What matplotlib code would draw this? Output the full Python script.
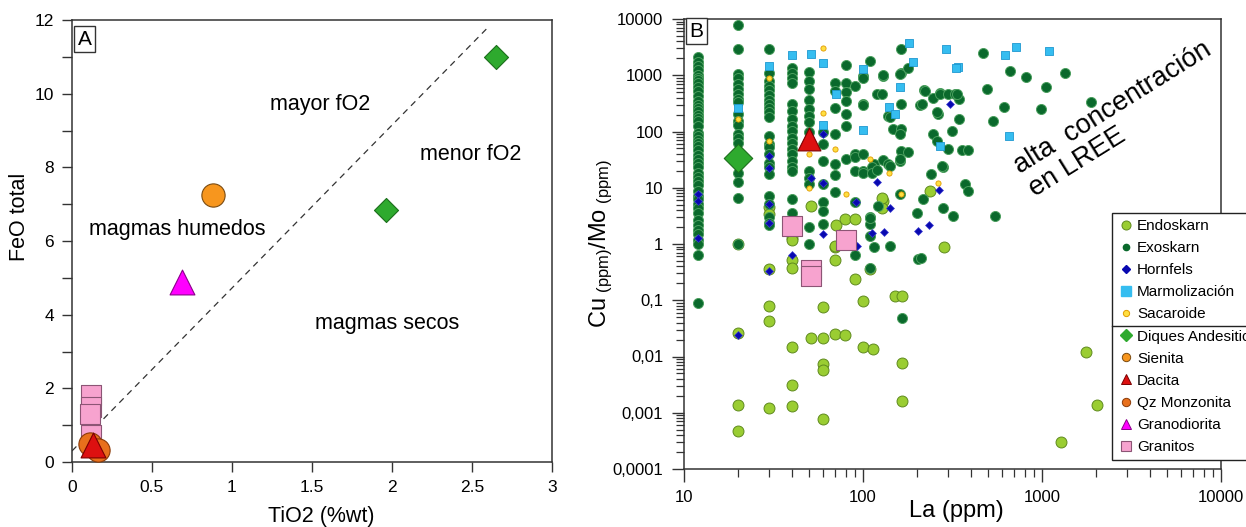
import numpy as np
import matplotlib.pyplot as plt
from matplotlib.lines import Line2D
from matplotlib.ticker import FixedLocator, LogLocator, FuncFormatter, NullFormatter

plt.rcParams['font.family'] = ['Liberation Sans', 'DejaVu Sans']
plt.rcParams['mathtext.fontset'] = 'custom'
plt.rcParams['mathtext.rm'] = 'Liberation Sans'
plt.rcParams['mathtext.default'] = 'regular'

# ---------------- panel A : TiO2 (%wt) vs FeO total ----------------
diq_tio2 = [2.65, 1.96]
diq_feo = [11.0, 6.85]
sien_tio2 = [0.88]
sien_feo = [7.26]
qzm_tio2 = [0.11, 0.16]
qzm_feo = [0.48, 0.33]
gdio_tio2 = [0.69]
gdio_feo = [4.9]
dac_tio2 = [0.13]
dac_feo = [0.45]
gran_tio2 = [0.12, 0.12, 0.11, 0.12]
gran_feo = [1.82, 1.5, 1.3, 0.72]
limit_tio2 = [0.0, 2.6]
limit_feo = [0.3, 11.8]

# ---------------- panel B : La (ppm) vs Cu/Mo ----------------
# exoskarn, vertical columns at fixed La
exo_c12 = [2100, 1750, 1450, 1250, 1030, 900, 830, 720, 630, 530, 423, 350, 300, 264,
           230, 200, 175, 152, 125, 95, 82, 72, 63, 55, 47, 39, 33, 28, 23, 18.5, 15.5,
           13.3, 11, 8.8, 7.2, 6.2, 5.2, 4.4, 3.5, 2.7, 2.2, 1.8, 1.5, 1.2, 1.0, 0.63, 0.088]
exo_c20 = [7800, 2950, 1070, 890, 710, 560, 465, 385, 330, 205, 154, 132, 92, 78, 63,
           18.6, 12.6, 6.6, 1.0]
exo_c30 = [2950, 1100, 790, 650, 540, 450, 370, 310, 265, 218, 178, 83, 60, 52, 40, 28,
           23, 17.6, 7.2, 5.2, 3.0, 2.4, 2.2]
exo_c40 = [1350, 1100, 910, 740, 310, 235, 167, 126, 102, 78, 62, 49, 40, 30, 23, 20,
           6.2, 3.6]
exo_c50 = [1150, 790, 560, 360, 250, 190, 145, 100, 20, 15, 11.7, 2.0, 1.0]
exo_c60 = [100, 60, 30, 11.8, 5.5, 3.9, 2.3]
# exoskarn, scattered
exo_la = [70, 70, 70, 70, 70, 70, 70,
          80, 80, 80, 80, 80, 80, 80,
          90, 90, 90, 90, 90, 90,
          100, 100, 100, 100, 100, 100, 100,
          110, 115, 112, 112, 110, 110, 110, 109, 109, 115,
          120, 128, 120, 130, 130, 130, 122,
          138, 141, 147, 138, 141, 141,
          162, 162, 178, 162, 162, 160, 162, 178, 160, 160, 160, 160,
          208, 219, 216, 200, 203, 213, 222, 210,
          247, 269, 262, 247, 258, 240, 280, 280, 269, 258, 276,
          298, 343, 343, 314, 298, 358, 385, 370, 385, 318, 325, 335,
          470, 660, 815, 1050, 1340, 490, 610, 990, 530, 1890, 545, 166]
exo_ratio = [740, 525, 265, 89, 26, 17, 8.3,
             1550, 740, 500, 350, 205, 126, 32,
             650, 40, 35, 20, 5.5, 0.64,
             980, 910, 310, 295, 40, 20, 18.6,
             1780, 26, 23, 18.6, 3.0, 2.3, 0.38, 2.9, 1.4, 0.87,
             465, 465, 21, 980, 1000, 31, 4.8,
             190, 178, 112, 26, 24.5, 0.93,
             2900, 1100, 1350, 310, 112, 92, 45, 44, 30, 32, 7.7, 1050,
             295, 550, 6.3, 3.6, 0.55, 310, 525, 0.56,
             400, 480, 205, 92, 68, 17.8, 23, 4.3, 465, 218, 24.5,
             465, 380, 167, 102, 49, 47, 47, 11.8, 8.9, 3.1, 460, 465,
             2450, 1180, 930, 620, 1100, 575, 275, 250, 155, 330, 3.1, 0.049]

endo_la = [30, 30, 40, 51, 71, 79, 90, 70, 130, 128, 128, 237, 285,
           20, 40, 40, 40, 30, 70, 70, 90, 110,
           30, 30, 60, 100, 150, 166, 20, 51, 60, 70, 79, 40, 100, 113,
           60, 60, 166, 1770, 40, 20, 30, 40, 166, 60, 20, 1280, 2020]
endo_ratio = [4.5, 3.4, 1.3, 4.8, 2.2, 2.8, 2.8, 0.87, 5.9, 4.3, 6.7, 8.9, 0.9,
              1.0, 1.2, 0.53, 0.37, 0.36, 0.93, 0.53, 0.24, 0.36,
              0.08, 0.043, 0.075, 0.096, 0.12, 0.117, 0.026, 0.021, 0.021, 0.025, 0.024,
              0.0145, 0.0145, 0.0135,
              0.0074, 0.0058, 0.0077, 0.012, 0.0031, 0.0014, 0.0012, 0.0013, 0.0016,
              0.00079, 0.00047, 0.0003, 0.0014]

horn_la = [12, 12, 12, 20, 30, 30, 30, 30, 30, 40, 51, 60, 60, 60, 91, 120, 141, 112,
           131, 92, 203, 233, 266, 306]
horn_ratio = [7.8, 5.9, 1.26, 0.024, 37, 22, 5.2, 2.4, 0.33, 0.64, 15, 89, 12.3, 1.5, 5.5,
              12.9, 4.3, 1.6, 1.66, 0.93, 1.7, 2.2, 9.2, 310]

marm_la = [30, 40, 51, 60, 71, 60, 20, 100, 100, 140, 150, 160, 180, 190, 269, 290, 340,
           330, 620, 720, 1090, 650]
marm_ratio = [1450, 2300, 2400, 1650, 460, 132, 265, 1290, 107, 275, 205, 620, 3700, 1700,
              55, 2900, 1400, 1350, 2300, 3160, 2690, 83]

sac_la = [60, 30, 20, 60, 30, 50, 70, 50, 80, 110, 140, 162, 262]
sac_ratio = [3100, 910, 166, 210, 69, 40, 49, 10, 7.8, 32, 18.6, 7.8, 12]

diq_la = [20]
diq_ratio = [34]
dac_la = [50]
dac_ratio = [75]
gran_la = [40, 80, 51, 51]
gran_ratio = [2.1, 1.2, 0.35, 0.27]

legend_labels = ['Endoskarn', 'Exoskarn', 'Hornfels', 'Marmolización', 'Sacaroide',
                 'Diques Andesitico', 'Sienita', 'Dacita', 'Qz Monzonita',
                 'Granodiorita', 'Granitos']

# styles
C_DIQ, E_DIQ = '#2eaa2e', '#1b6e1b'
C_SIEN, E_SIEN = '#f7961e', '#7a4a10'
C_QZM, E_QZM = '#e8701c', '#8a3a08'
C_DAC, E_DAC = '#dd1010', '#7a0000'
C_GDIO, E_GDIO = '#ff00ff', '#8a008a'
C_GRAN, E_GRAN = '#f7a3cf', '#8c5575'
C_ENDO, E_ENDO = '#9acd32', '#5f8a1e'
C_EXO, E_EXO = '#0a692c', '#4b9f5e'
C_HORN, E_HORN = '#0808b0', '#3a3ad0'
C_MARM, E_MARM = '#35bdf0', '#1e98d0'
C_SAC, E_SAC = '#ffdf40', '#e09a00'
SPINE = '#333333'

W, H = 1246, 527
fig = plt.figure(figsize=(W / 100, H / 100), dpi=100)

# ======== panel A ========
axA = fig.add_axes([72 / W, 65 / H, 480 / W, 442 / H])
axA.plot(limit_tio2, limit_feo, ls=(0, (5, 4)), color='#333333', lw=0.9, zorder=1)
axA.scatter(gran_tio2, gran_feo, s=200, marker='s', c=C_GRAN, edgecolors=E_GRAN, linewidths=0.8, zorder=3)
axA.scatter(qzm_tio2, qzm_feo, s=280, marker='o', c=C_QZM, edgecolors=E_QZM, linewidths=0.8, zorder=4)
axA.scatter(dac_tio2, dac_feo, s=320, marker='^', c=C_DAC, edgecolors=E_DAC, linewidths=0.8, zorder=5)
axA.scatter(sien_tio2, sien_feo, s=280, marker='o', c=C_SIEN, edgecolors=E_SIEN, linewidths=0.8, zorder=4)
axA.scatter(gdio_tio2, gdio_feo, s=320, marker='^', c=C_GDIO, edgecolors=E_GDIO, linewidths=0.8, zorder=4)
axA.scatter(diq_tio2, diq_feo, s=150, marker='D', c=C_DIQ, edgecolors=E_DIQ, linewidths=0.8, zorder=4)

axA.set_xlim(0, 3)
axA.set_ylim(0, 12)
axA.xaxis.set_major_locator(FixedLocator([0, 0.5, 1, 1.5, 2, 2.5, 3]))
axA.yaxis.set_major_locator(FixedLocator([0, 2, 4, 6, 8, 10, 12]))
axA.yaxis.set_minor_locator(FixedLocator([1, 3, 5, 7, 9, 11]))
axA.xaxis.set_major_formatter(FuncFormatter(lambda v, p: '%g' % v))
axA.tick_params(which='both', direction='out', length=7, width=1.0, color=SPINE,
                labelsize=12.5, pad=6)
for sp in axA.spines.values():
    sp.set_color(SPINE)
    sp.set_linewidth(1.1)

axA.text(1.55, 9.7, 'mayor fO2', fontsize=15.5, ha='center', va='center')
axA.text(2.49, 8.35, 'menor fO2', fontsize=15.5, ha='center', va='center')
axA.text(0.66, 6.3, 'magmas humedos', fontsize=15.5, ha='center', va='center')
axA.text(1.97, 3.75, 'magmas secos', fontsize=15.5, ha='center', va='center')
axA.text(0.012, 0.978, 'A', transform=axA.transAxes, fontsize=15, ha='left', va='top',
         bbox=dict(boxstyle='square,pad=0.18', fc='white', ec=SPINE, lw=1.0))

axA.set_xlabel('TiO2 (%wt)', fontsize=15.5)
axA.set_ylabel('FeO total', fontsize=15.5)
axA.xaxis.set_label_coords(0.52, -0.1)
axA.yaxis.set_label_coords(-0.088, 0.555)

# ======== panel B ========
axB = fig.add_axes([684 / W, 58 / H, 537 / W, 450 / H])
axB.set_xscale('log')
axB.set_yscale('log')

axB.scatter(endo_la, endo_ratio, s=62, c=C_ENDO, edgecolors=E_ENDO, linewidths=0.7, zorder=2)
for la, col in [(12, exo_c12), (20, exo_c20), (30, exo_c30), (40, exo_c40), (50, exo_c50), (60, exo_c60)]:
    axB.scatter([la] * len(col), col, s=52, c=C_EXO, edgecolors=E_EXO, linewidths=0.7, zorder=3)
axB.scatter(exo_la, exo_ratio, s=52, c=C_EXO, edgecolors=E_EXO, linewidths=0.7, zorder=3)
axB.scatter(horn_la, horn_ratio, s=16, marker='D', c=C_HORN, edgecolors=E_HORN, linewidths=0.5, zorder=4)
axB.scatter(marm_la, marm_ratio, s=40, marker='s', c=C_MARM, edgecolors=E_MARM, linewidths=0.6, zorder=4)
axB.scatter(sac_la, sac_ratio, s=14, c=C_SAC, edgecolors=E_SAC, linewidths=0.6, zorder=5)
axB.scatter(diq_la, diq_ratio, s=210, marker='D', c=C_DIQ, edgecolors=E_DIQ, linewidths=0.8, zorder=6)
axB.scatter(dac_la, dac_ratio, s=270, marker='^', c=C_DAC, edgecolors=E_DAC, linewidths=0.8, zorder=6)
axB.scatter(gran_la, gran_ratio, s=190, marker='s', c=C_GRAN, edgecolors=E_GRAN, linewidths=0.8, zorder=6)

axB.set_xlim(10, 10000)
axB.set_ylim(1e-4, 1e4)
comma = FuncFormatter(lambda v, p: ('%.4f' % v).rstrip('0').rstrip('.').replace('.', ',') if v < 1 else '%d' % round(v))
axB.xaxis.set_major_locator(LogLocator(base=10, numticks=20))
axB.yaxis.set_major_locator(LogLocator(base=10, numticks=20))
axB.xaxis.set_minor_locator(LogLocator(base=10, subs=np.arange(2, 10), numticks=100))
axB.yaxis.set_minor_locator(LogLocator(base=10, subs=np.arange(2, 10), numticks=100))
axB.xaxis.set_major_formatter(comma)
axB.yaxis.set_major_formatter(comma)
axB.xaxis.set_minor_formatter(NullFormatter())
axB.yaxis.set_minor_formatter(NullFormatter())
axB.tick_params(which='major', direction='out', length=9, width=1.0, color=SPINE, labelsize=12, pad=6)
axB.tick_params(which='minor', direction='out', length=6, width=0.9, color=SPINE)
for sp in axB.spines.values():
    sp.set_color(SPINE)
    sp.set_linewidth(1.1)

axB.text(0.01, 0.994, 'B', transform=axB.transAxes, fontsize=15, ha='left', va='top',
         bbox=dict(boxstyle='square,pad=0.18', fc='white', ec=SPINE, lw=1.0))
axB.text(2730, 164, 'alta  concentración\nen LREE', fontsize=19.5, rotation=32,
         ha='center', va='center', multialignment='left', linespacing=1.05)

axB.set_xlabel('La (ppm)', fontsize=17)
axB.set_ylabel(r'Cu$_{\ (ppm)}$/Mo$_{\ (ppm)}$', fontsize=17)
axB.xaxis.set_label_coords(0.508, -0.07)
axB.yaxis.set_label_coords(-0.128, 0.5)

# legend
handles = [
    Line2D([], [], ls='none', marker='o', ms=6.5, mfc=C_ENDO, mec=E_ENDO, mew=0.7),
    Line2D([], [], ls='none', marker='o', ms=4.5, mfc=C_EXO, mec=C_EXO),
    Line2D([], [], ls='none', marker='D', ms=4.5, mfc=C_HORN, mec=C_HORN),
    Line2D([], [], ls='none', marker='s', ms=7, mfc=C_MARM, mec=C_MARM),
    Line2D([], [], ls='none', marker='o', ms=4.5, mfc=C_SAC, mec=E_SAC, mew=0.7),
    Line2D([], [], ls='none', marker='D', ms=6, mfc=C_DIQ, mec=C_DIQ),
    Line2D([], [], ls='none', marker='o', ms=6, mfc=C_SIEN, mec=E_SIEN, mew=0.7),
    Line2D([], [], ls='none', marker='^', ms=7.5, mfc=C_DAC, mec=E_DAC, mew=0.7),
    Line2D([], [], ls='none', marker='o', ms=6, mfc=C_QZM, mec=E_QZM, mew=0.7),
    Line2D([], [], ls='none', marker='^', ms=7.5, mfc=C_GDIO, mec=E_GDIO, mew=0.7),
    Line2D([], [], ls='none', marker='s', ms=7, mfc=C_GRAN, mec=E_GRAN, mew=0.8),
]
leg = axB.legend(handles, legend_labels, loc='upper left', bbox_to_anchor=(1112 / W, 1 - 213 / H),
                 bbox_transform=fig.transFigure, fontsize=11, frameon=True, fancybox=False,
                 edgecolor='#222222', framealpha=1, borderpad=0.4, labelspacing=0.53,
                 handlelength=1.0, handletextpad=0.25, borderaxespad=0)
leg.get_frame().set_linewidth(1.0)
leg.set_zorder(10)

fig.canvas.draw()
r = fig.canvas.get_renderer()
t4 = leg.get_texts()[4].get_window_extent(r)
t5 = leg.get_texts()[5].get_window_extent(r)
ymid = (t4.y0 + t5.y1) / 2 / fig.bbox.height
fb = leg.get_frame().get_window_extent(r)
fig.add_artist(Line2D([fb.x0 / fig.bbox.width, 1.0], [ymid, ymid], color='#222222', lw=1.0, zorder=11))

fig.savefig('out.png', dpi=100)
